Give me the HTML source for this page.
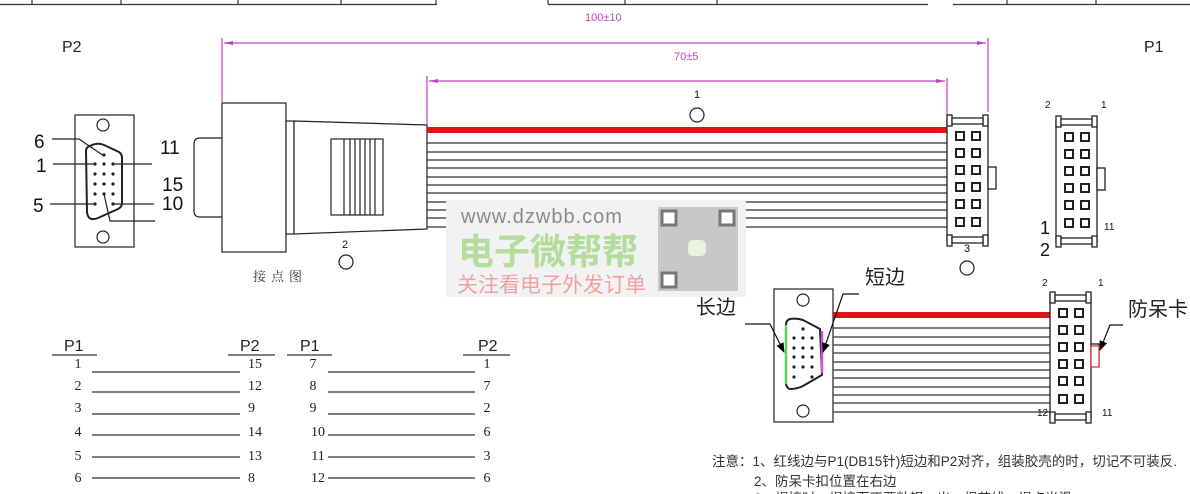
<!DOCTYPE html>
<html><head><meta charset="utf-8"><style>
html,body{margin:0;padding:0;background:#fff;width:1190px;height:494px;overflow:hidden}
svg{display:block}
.s{font-family:"Liberation Sans","Noto Sans CJK SC",sans-serif}
.r{font-family:"Liberation Serif","Noto Serif CJK SC",serif}
</style></head><body>
<svg width="1190" height="494" viewBox="0 0 1190 494" xmlns="http://www.w3.org/2000/svg">
<defs>
<marker id="am" markerWidth="10" markerHeight="6" refX="9" refY="3" orient="auto-start-reverse" markerUnits="userSpaceOnUse"><path d="M0,1 L9,3 L0,5 Z" fill="#c040c0"/></marker>
<marker id="ak" markerWidth="10" markerHeight="8" refX="9" refY="4" orient="auto" markerUnits="userSpaceOnUse"><path d="M0,0 L10,4 L0,8 Z" fill="#000"/></marker>
</defs>
<g stroke="#333" stroke-width="1.2" fill="none">
<path d="M0,4.5 H437 M32,0 V4 M121,0 V4 M238,0 V4 M341,0 V4 M436,0 V4"/>
<path d="M548,4.5 H928 M548,0 V4 M625,0 V4 M717,0 V4 M953,4.5 H1190 M1007,0 V4 M1096,0 V4"/>
</g>
<g class="s" fill="#c040c0" font-size="11"><text x="585" y="21">100±10</text><text x="674" y="60">70±5</text></g>
<g stroke="#c040c0" stroke-width="1.2" fill="none">
<line x1="224" y1="43" x2="986" y2="43" marker-start="url(#am)" marker-end="url(#am)"/>
<path d="M222,38 V102 M988,38 V112"/>
<line x1="429" y1="81" x2="945" y2="81" marker-start="url(#am)" marker-end="url(#am)"/>
<path d="M427,76 V127 M947,78 V115"/>
</g>
<g class="s" font-size="16" fill="#222"><text x="62" y="52">P2</text><text x="1144" y="52">P1</text></g>
<g stroke="#222" stroke-width="1.2" fill="none">
<rect x="75" y="115" width="59" height="132"/>
<circle cx="103" cy="125" r="6"/><circle cx="103" cy="237" r="6"/>
<path d="M90,146 Q97,142 104,145 L119,152 Q122,154 122,158 L122,203 Q122,207 118,209 L98,218 Q88,222 87,212 L86,151 Q86,147 90,146 Z" stroke-width="2"/>
<path d="M52,139 H79 L104,156 M53,164 H95 M114,164 H152 M50,204 H95 M114,204 H154 M104,194 L110,221 H155"/>
</g>
<g fill="#222">
<circle cx="104" cy="155" r="1.6"/>
<circle cx="95" cy="164" r="1.6"/><circle cx="104" cy="164" r="1.6"/><circle cx="113" cy="164" r="1.6"/>
<circle cx="95" cy="174" r="1.6"/><circle cx="104" cy="174" r="1.6"/><circle cx="113" cy="174" r="1.6"/>
<circle cx="95" cy="184" r="1.6"/><circle cx="104" cy="184" r="1.6"/><circle cx="113" cy="184" r="1.6"/>
<circle cx="95" cy="194" r="1.6"/><circle cx="104" cy="194" r="1.6"/><circle cx="113" cy="194" r="1.6"/>
<circle cx="95" cy="204" r="1.6"/><circle cx="113" cy="204" r="1.6"/>
</g>
<g class="s" font-size="19" fill="#111"><text x="34" y="148">6</text><text x="36" y="172">1</text><text x="33" y="212">5</text><text x="160" y="154">11</text><text x="162" y="191">15</text><text x="162" y="210">10</text></g>
<g stroke="#222" stroke-width="1.2" fill="#fff">
<path d="M222,138 H200 Q194,138 194,144 V211 Q194,217 200,217 H222"/>
<rect x="222" y="103" width="64" height="149"/>
<rect x="286" y="121" width="8" height="113"/>
<path d="M294,121 L427,125 L427,229 L294,234 Z"/>
<rect x="331" y="139" width="52" height="76"/>
<path d="M344,139 V215 M350,139 V215 M355,139 V215 M360,139 V215 M365,139 V215 M370,139 V215 M375,139 V215" fill="none"/>
<circle cx="346" cy="262" r="7" fill="none"/>
<circle cx="697" cy="115" r="7" fill="none"/>
<circle cx="967" cy="268" r="7" fill="none"/>
</g>
<g class="s" font-size="11" fill="#111"><text x="342" y="248">2</text><text x="694" y="98">1</text><text x="964" y="252">3</text></g>
<text x="253" y="281" class="r" font-size="13" fill="#333" letter-spacing="5">接点图</text>
<rect x="427" y="127" width="520" height="6" fill="#d81818"/>
<g stroke="#333" stroke-width="1.2">
<path d="M427,143H947M427,152H947M427,160H947M427,168H947M427,177H947M427,185H947M427,193H947M427,202H947M427,210H947M427,218H947M427,227H947"/>
</g>
<g id="c1" stroke="#222" stroke-width="1.3" fill="#fff">
<rect x="947" y="120" width="41" height="121"/>
<rect x="947" y="115" width="5" height="11"/><rect x="983" y="115" width="5" height="11"/>
<rect x="952" y="118" width="31" height="6"/>
<rect x="947" y="235" width="5" height="11"/><rect x="983" y="235" width="5" height="11"/>
<rect x="952" y="237" width="31" height="6"/>
<rect x="988" y="167" width="8" height="22"/>
<g stroke-width="2"><rect x="956" y="132" width="8" height="8"/><rect x="972" y="132" width="8" height="8"/>
<rect x="956" y="149" width="8" height="8"/><rect x="972" y="149" width="8" height="8"/>
<rect x="956" y="166" width="8" height="8"/><rect x="972" y="166" width="8" height="8"/>
<rect x="956" y="183" width="8" height="8"/><rect x="972" y="183" width="8" height="8"/>
<rect x="956" y="200" width="8" height="8"/><rect x="972" y="200" width="8" height="8"/>
<rect x="956" y="218" width="8" height="8"/><rect x="972" y="218" width="8" height="8"/></g>
</g>
<use href="#c1" transform="translate(109,1)"/>
<g class="s" fill="#111"><text x="1045" y="108" font-size="10">2</text><text x="1101" y="108" font-size="10">1</text><text x="1040" y="234" font-size="18">1</text><text x="1040" y="256" font-size="18">2</text><text x="1104" y="230" font-size="10">11</text></g>
<rect x="446" y="200" width="300" height="97" fill="#f2f2f2"/>
<text x="461" y="223" class="s" font-size="20" fill="#8a8a8a" letter-spacing="1">www.dzwbb.com</text>
<text x="458" y="264" class="s" font-size="36" font-weight="bold" fill="#b4dc9c">电子微帮帮</text>
<text x="457" y="292" class="s" font-size="21" fill="#f0a0a0">关注看电子外发订单</text>
<rect x="658" y="207" width="80" height="84" fill="#c8c8c8"/>
<g fill="#fff"><rect x="662" y="211" width="14" height="14" stroke="#777" stroke-width="3"/><rect x="720" y="211" width="14" height="14" stroke="#777" stroke-width="3"/><rect x="662" y="273" width="14" height="14" stroke="#777" stroke-width="3"/><rect x="688" y="240" width="18" height="16" rx="5" fill="#e8f4e0"/></g>
<g stroke="#222" stroke-width="1.2" fill="#fff">
<rect x="774" y="289" width="59" height="133"/>
<circle cx="803" cy="300" r="6"/><circle cx="803" cy="411" r="6"/>
<path d="M790,319 Q797,318 803,320 L820,329 L822,375 L803,386 Q797,389 790,389 Q786,388 786,382 V325 Q786,320 790,319 Z" stroke-width="2" fill="none"/>
</g>
<path d="M786,325 V384" stroke="#5ad45a" stroke-width="2.5"/>
<path d="M822,331 V373" stroke="#d050d0" stroke-width="2.5"/>
<g fill="#222">
<circle cx="803" cy="329" r="1.6"/>
<circle cx="794" cy="338" r="1.6"/><circle cx="803" cy="338" r="1.6"/><circle cx="812" cy="338" r="1.6"/>
<circle cx="794" cy="348" r="1.6"/><circle cx="803" cy="348" r="1.6"/><circle cx="812" cy="348" r="1.6"/>
<circle cx="794" cy="357" r="1.6"/><circle cx="803" cy="357" r="1.6"/><circle cx="812" cy="357" r="1.6"/>
<circle cx="794" cy="367" r="1.6"/><circle cx="803" cy="367" r="1.6"/><circle cx="812" cy="367" r="1.6"/>
<circle cx="794" cy="377" r="1.6"/><circle cx="812" cy="377" r="1.6"/>
</g>
<rect x="833" y="312" width="217" height="6" fill="#d81818"/>
<g stroke="#333" stroke-width="1.2"><path d="M833,328H1050M833,337H1050M833,345H1050M833,353H1050M833,362H1050M833,370H1050M833,378H1050M833,387H1050M833,395H1050M833,403H1050M833,412H1050"/></g>
<use href="#c1" transform="translate(103,177)"/>
<rect x="1091" y="346" width="8" height="21" fill="#fff" stroke="#e03030" stroke-width="1.2"/>
<g class="s" font-size="10" fill="#111"><text x="1042" y="286">2</text><text x="1098" y="286">1</text><text x="1037" y="416">12</text><text x="1102" y="416">11</text></g>
<g stroke="#111" stroke-width="1.2" fill="none">
<polyline points="745,324 770,324 784,352" marker-end="url(#ak)"/>
<polyline points="859,294 843,294 823,352" marker-end="url(#ak)"/>
<polyline points="1123,325 1110,325 1100,350" marker-end="url(#ak)"/>
</g>
<g class="s" font-size="20" fill="#222"><text x="696" y="314">长边</text><text x="865" y="284">短边</text><text x="1128" y="316">防呆卡</text></g>
<g class="s" font-size="13.5" fill="#333"><text x="712" y="466">注意：1、红线边与P1(DB15针)短边和P2对齐，组装胶壳的时，切记不可装反.</text><text x="754" y="486">2、防呆卡扣位置在右边</text><text x="754" y="503">3、焊接时，焊接面不要粘锡，出一根芯线，焊点光滑</text></g>
<g class="s" font-size="16" fill="#222"><text x="64" y="351">P1</text><text x="240" y="351">P2</text><text x="300" y="351">P1</text><text x="478" y="351">P2</text></g>
<g stroke="#333" stroke-width="1.2">
<path d="M52,355H97M228,355H275M287,355H332M463,355H510"/>
<path d="M92,372H240M92,392H240M92,414H240M92,435H240M92,457H240M92,478H240"/>
<path d="M328,372H475M328,392H475M328,414H475M328,435H475M328,457H475M328,478H475"/>
</g>
<g class="r" font-size="14" fill="#222" text-anchor="middle">
<text x="78" y="368">1</text><text x="78" y="390">2</text><text x="78" y="412">3</text><text x="78" y="436">4</text><text x="78" y="460">5</text><text x="78" y="482">6</text>
<text x="313" y="368">7</text><text x="313" y="390">8</text><text x="313" y="412">9</text><text x="318" y="436">10</text><text x="318" y="460">11</text><text x="318" y="482">12</text>
<text x="487" y="368">1</text><text x="487" y="390">7</text><text x="487" y="412">2</text><text x="487" y="436">6</text><text x="487" y="460">3</text><text x="487" y="482">6</text>
</g>
<g class="r" font-size="14" fill="#222"><text x="248" y="368">15</text><text x="248" y="390">12</text><text x="248" y="412">9</text><text x="248" y="436">14</text><text x="248" y="460">13</text><text x="248" y="482">8</text></g>
</svg>
</body></html>
